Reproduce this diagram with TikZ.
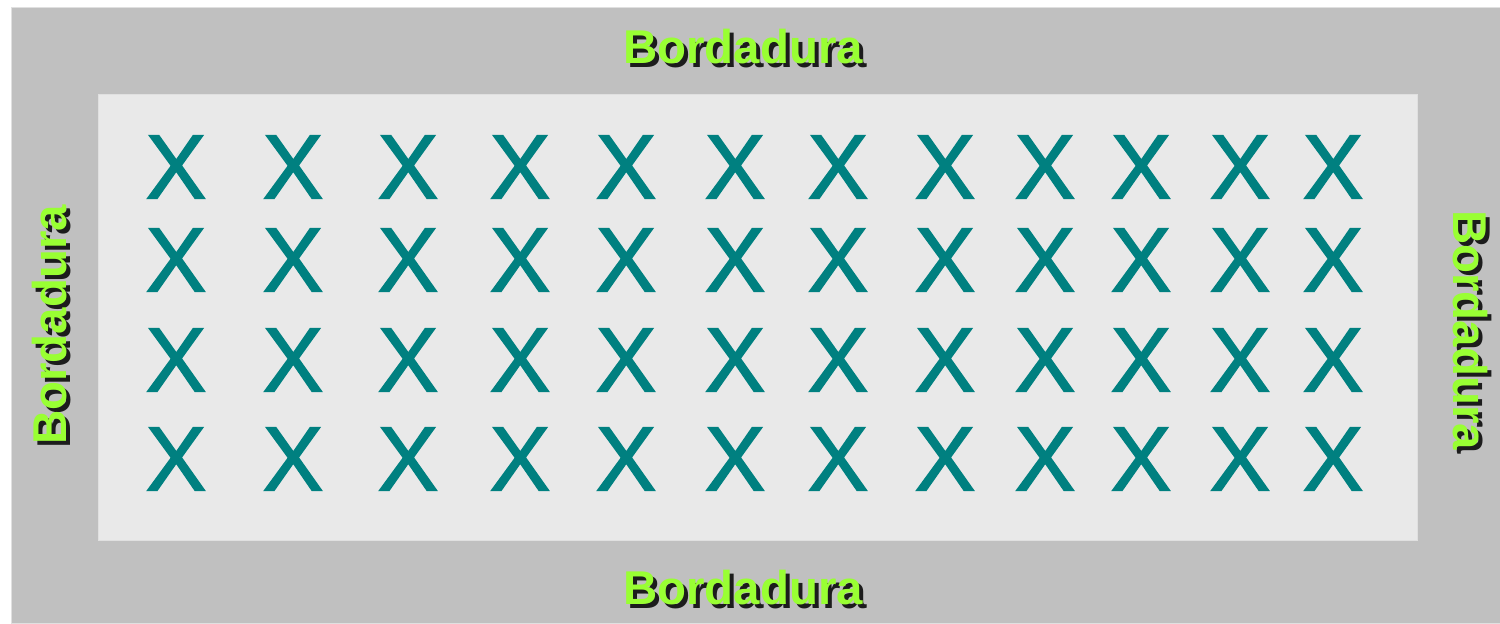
\documentclass[tikz,border=0pt]{standalone}
\usepackage{fontspec}
\setmainfont{Liberation Sans}
\newfontfamily\plantafont[BoldFont=Liberation Sans, BoldFeatures={FakeBold=1.6}]{Liberation Sans}
\definecolor{borda}{RGB}{192,192,192}
\definecolor{campo}{RGB}{233,233,233}
\definecolor{planta}{RGB}{0,128,128}
\definecolor{rotulo}{RGB}{153,255,51}
\tikzset{
  planta/.style={text=planta, inner sep=0pt, font=\plantafont\bfseries\fontsize{52}{52}\selectfont},
  rotulo/.style={text=rotulo, inner sep=0pt, font=\fontsize{27}{27}\selectfont\bfseries},
  sombra/.style={text=black, inner sep=0pt, font=\fontsize{27}{27}\selectfont\bfseries, opacity=0.85}
}
\begin{document}
\begin{tikzpicture}[x=0.02cm, y=-0.02cm]
 \useasboundingbox (0,0) rectangle (1500,623);
 % area da bordadura e parcela util
 \draw[fill=borda, draw=black!12] (11,7) rectangle (1500,623);
 \draw[fill=campo, draw=black!12] (98,94) rectangle (1417,540);
 % plantas
 \foreach \cy [count=\j] in {167,260,360,459}
  \foreach \cx [count=\i] in {176,293,408,520,626,735,838,945,1045,1141,1240,1333}
   \node[planta] (x-\j-\i) at (\cx,\cy) {X};
 % rotulos com sombra
 \node[sombra] at (747,51) {Bordadura};
 \node[rotulo] (topo) at (743,47) {Bordadura};
 \node[sombra] at (747,592) {Bordadura};
 \node[rotulo] (base) at (743,588) {Bordadura};
 \node[sombra, rotate=90] at (54,329) {Bordadura};
 \node[rotulo, rotate=90] (esq) at (50,325) {Bordadura};
 \node[sombra, rotate=-90] at (1474,334) {Bordadura};
 \node[rotulo, rotate=-90] (dir) at (1470,330) {Bordadura};
\end{tikzpicture}
\end{document}
